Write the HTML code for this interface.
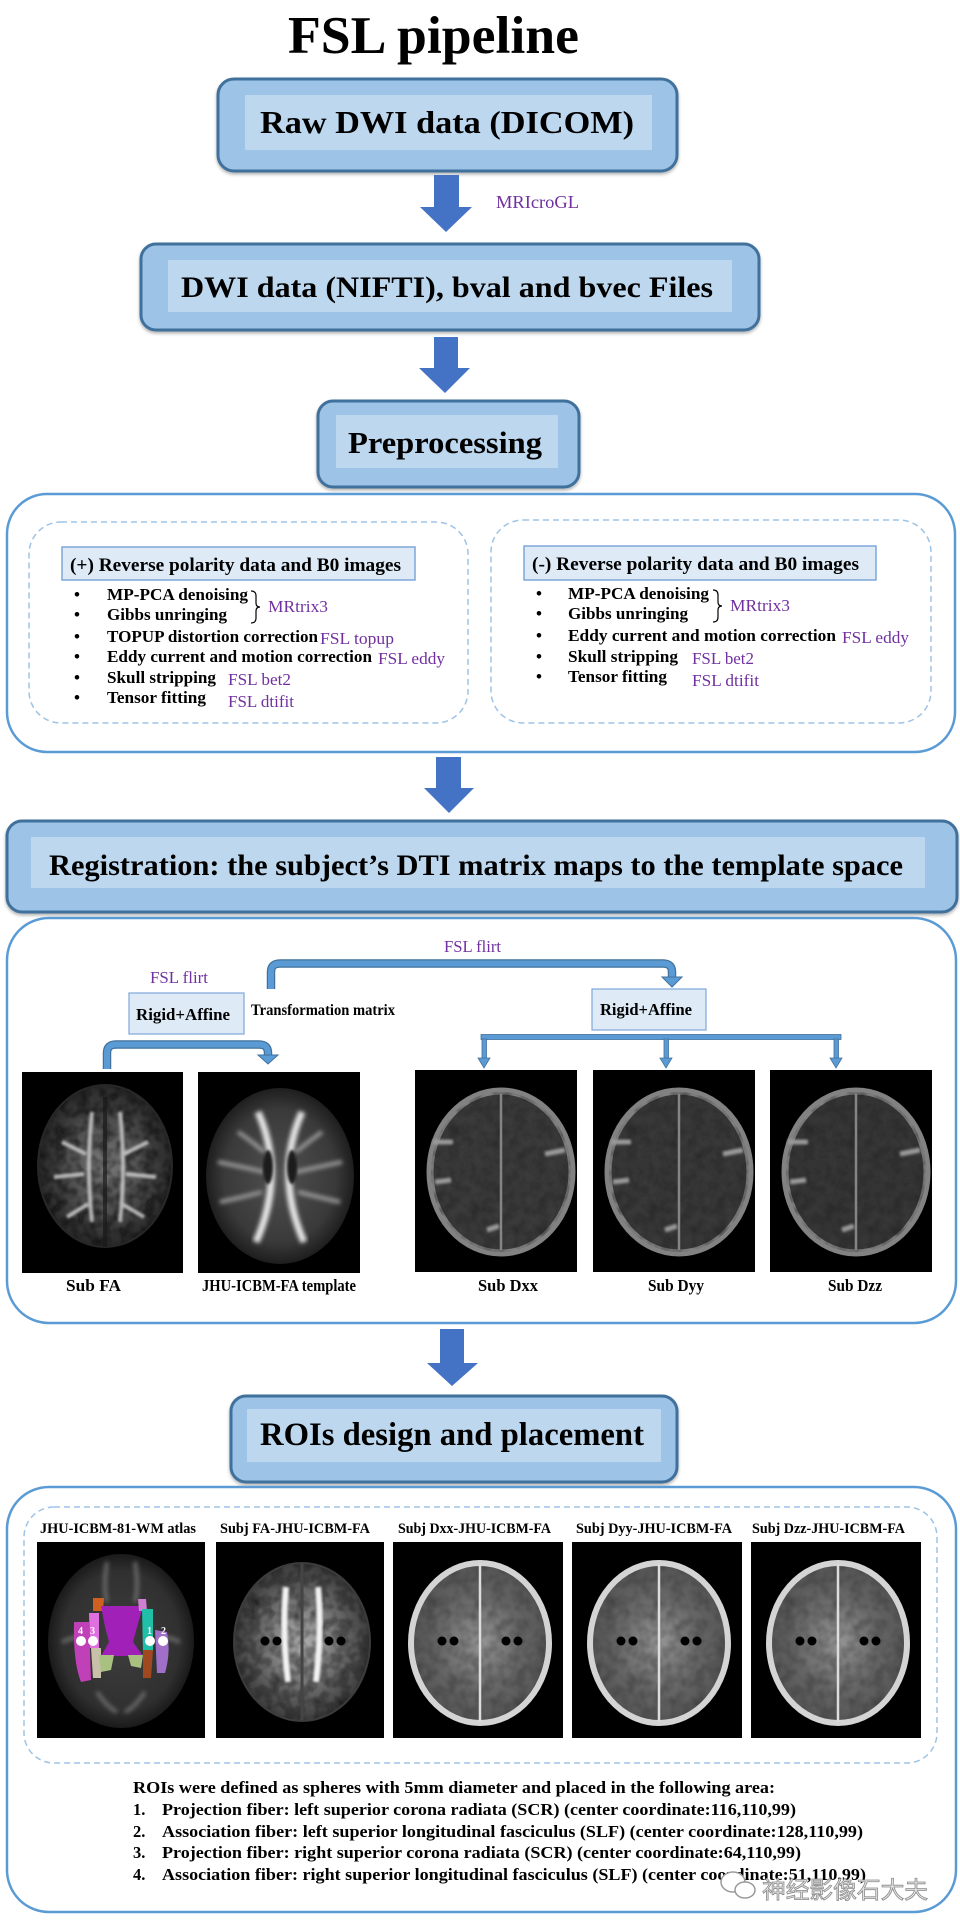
<!DOCTYPE html>
<html><head><meta charset="utf-8"><style>
html,body{margin:0;padding:0;background:#fff}
svg{display:block}
text{font-family:"Liberation Serif","Noto Serif CJK SC",serif}
.b{font-weight:bold;fill:#000}
.p{fill:#7030a0}
</style></head><body>
<svg width="960" height="1929" viewBox="0 0 960 1929" xmlns="http://www.w3.org/2000/svg">
<defs>
<filter id="sh" x="-5%" y="-5%" width="110%" height="120%"><feDropShadow dx="0" dy="2" stdDeviation="1.5" flood-color="#000" flood-opacity="0.3"/></filter>
<filter id="bl1"><feGaussianBlur stdDeviation="1.2"/></filter>
<filter id="bl2"><feGaussianBlur stdDeviation="2.2"/></filter>
<filter id="tex" x="0" y="0" width="100%" height="100%">
<feTurbulence type="fractalNoise" baseFrequency="0.09" numOctaves="2" seed="3" result="n"/>
<feColorMatrix in="n" type="matrix" values="0 0 0 0 0  0 0 0 0 0  0 0 0 0 0  0 0 0 -1.6 1.05" result="a"/>
<feComposite in="SourceGraphic" in2="a" operator="in"/>
</filter>
<radialGradient id="gFA" cx="50%" cy="50%" r="50%"><stop offset="0" stop-color="#7a7a7a"/><stop offset="0.6" stop-color="#4a4a4a"/><stop offset="1" stop-color="#262626"/></radialGradient>
<radialGradient id="gTpl" cx="50%" cy="50%" r="50%"><stop offset="0" stop-color="#505050"/><stop offset="0.75" stop-color="#3a3a3a"/><stop offset="1" stop-color="#1e1e1e"/></radialGradient>
<radialGradient id="gAt" cx="50%" cy="50%" r="50%"><stop offset="0" stop-color="#3e3e3e"/><stop offset="0.8" stop-color="#303030"/><stop offset="1" stop-color="#1a1a1a"/></radialGradient>
<radialGradient id="gRFA" cx="50%" cy="50%" r="50%"><stop offset="0" stop-color="#b0b0b0"/><stop offset="0.55" stop-color="#707070"/><stop offset="1" stop-color="#3a3a3a"/></radialGradient>
<radialGradient id="gRD" cx="50%" cy="50%" r="50%"><stop offset="0" stop-color="#959595"/><stop offset="0.6" stop-color="#666"/><stop offset="1" stop-color="#555"/></radialGradient>
</defs>

<!-- Title -->
<text class="b" x="288" y="53" font-size="53" textLength="291" lengthAdjust="spacingAndGlyphs">FSL pipeline</text>

<!-- Box 1 -->
<g filter="url(#sh)"><rect x="218" y="79" width="459" height="92" rx="16" fill="#9dc3e6" stroke="#41719c" stroke-width="3"/></g>
<rect x="245" y="95" width="407" height="55" fill="#bdd7ee"/>
<text class="b" x="260" y="133" font-size="32" textLength="374" lengthAdjust="spacingAndGlyphs">Raw DWI data (DICOM)</text>

<!-- Arrow 1 -->
<polygon points="434,175 459,175 459,207 472,207 446,232 420,207 434,207" fill="#4472c4"/>
<text class="p" x="496" y="208" font-size="18" textLength="83" lengthAdjust="spacingAndGlyphs">MRIcroGL</text>

<!-- Box 2 -->
<g filter="url(#sh)"><rect x="141" y="244" width="618" height="86" rx="15" fill="#9dc3e6" stroke="#41719c" stroke-width="3"/></g>
<rect x="168" y="260" width="564" height="52" fill="#bdd7ee"/>
<text class="b" x="181" y="297" font-size="30" textLength="532" lengthAdjust="spacingAndGlyphs">DWI data (NIFTI), bval and bvec Files</text>

<!-- Arrow 2 -->
<polygon points="434,337 458,337 458,368 470,368 445,393 419,368 434,368" fill="#4472c4"/>

<!-- Box 3 -->
<g filter="url(#sh)"><rect x="318" y="401" width="261" height="86" rx="15" fill="#9dc3e6" stroke="#41719c" stroke-width="3"/></g>
<rect x="336" y="415" width="222" height="53" fill="#bdd7ee"/>
<text class="b" x="348" y="453" font-size="31" textLength="194" lengthAdjust="spacingAndGlyphs">Preprocessing</text>

<!-- Container 1 -->
<rect x="7" y="494" width="948" height="258" rx="40" fill="none" stroke="#5b9bd5" stroke-width="2.5"/>
<rect x="29" y="522" width="439" height="201" rx="32" fill="none" stroke="#9dc3e6" stroke-width="1.5" stroke-dasharray="6,4"/>
<rect x="491" y="520" width="440" height="203" rx="32" fill="none" stroke="#9dc3e6" stroke-width="1.5" stroke-dasharray="6,4"/>
<rect x="62" y="547" width="353" height="33" fill="#deebf7" stroke="#7fa7d9" stroke-width="1.5"/>
<text class="b" x="70" y="571" font-size="19" textLength="331" lengthAdjust="spacingAndGlyphs">(+) Reverse polarity data and B0 images</text>
<rect x="524" y="546" width="352" height="34" fill="#deebf7" stroke="#7fa7d9" stroke-width="1.5"/>
<text class="b" x="532" y="570" font-size="19" textLength="327" lengthAdjust="spacingAndGlyphs">(-) Reverse polarity data and B0 images</text>

<g font-size="17">
<text class="b" x="74" y="600">•</text><text class="b" x="107" y="600" textLength="141" lengthAdjust="spacingAndGlyphs">MP-PCA denoising</text>
<text class="b" x="74" y="620">•</text><text class="b" x="107" y="620" textLength="120" lengthAdjust="spacingAndGlyphs">Gibbs unringing</text>
<text class="b" x="74" y="642">•</text><text class="b" x="107" y="642" textLength="211" lengthAdjust="spacingAndGlyphs">TOPUP distortion correction</text>
<text class="b" x="74" y="662">•</text><text class="b" x="107" y="662" textLength="265" lengthAdjust="spacingAndGlyphs">Eddy current and motion correction</text>
<text class="b" x="74" y="683">•</text><text class="b" x="107" y="683" textLength="109" lengthAdjust="spacingAndGlyphs">Skull stripping</text>
<text class="b" x="74" y="703">•</text><text class="b" x="107" y="703" textLength="99" lengthAdjust="spacingAndGlyphs">Tensor fitting</text>
<text class="p" x="268" y="612" textLength="60" lengthAdjust="spacingAndGlyphs">MRtrix3</text>
<text class="p" x="320" y="644" textLength="74" lengthAdjust="spacingAndGlyphs">FSL topup</text>
<text class="p" x="378" y="664" textLength="67" lengthAdjust="spacingAndGlyphs">FSL eddy</text>
<text class="p" x="228" y="685" textLength="63" lengthAdjust="spacingAndGlyphs">FSL bet2</text>
<text class="p" x="228" y="707" textLength="66" lengthAdjust="spacingAndGlyphs">FSL dtifit</text>

<text class="b" x="536" y="599">•</text><text class="b" x="568" y="599" textLength="141" lengthAdjust="spacingAndGlyphs">MP-PCA denoising</text>
<text class="b" x="536" y="619">•</text><text class="b" x="568" y="619" textLength="120" lengthAdjust="spacingAndGlyphs">Gibbs unringing</text>
<text class="b" x="536" y="641">•</text><text class="b" x="568" y="641" textLength="268" lengthAdjust="spacingAndGlyphs">Eddy current and motion correction</text>
<text class="b" x="536" y="662">•</text><text class="b" x="568" y="662" textLength="110" lengthAdjust="spacingAndGlyphs">Skull stripping</text>
<text class="b" x="536" y="682">•</text><text class="b" x="568" y="682" textLength="99" lengthAdjust="spacingAndGlyphs">Tensor fitting</text>
<text class="p" x="730" y="611" textLength="60" lengthAdjust="spacingAndGlyphs">MRtrix3</text>
<text class="p" x="842" y="643" textLength="67" lengthAdjust="spacingAndGlyphs">FSL eddy</text>
<text class="p" x="692" y="664" textLength="62" lengthAdjust="spacingAndGlyphs">FSL bet2</text>
<text class="p" x="692" y="686" textLength="67" lengthAdjust="spacingAndGlyphs">FSL dtifit</text>
</g>
<path d="M251 591 Q256 591 256 596 L256 603 Q256 607 260 607 Q256 607 256 611 L256 618 Q256 623 251 623" fill="none" stroke="#000" stroke-width="1.2"/>
<path d="M713 590 Q718 590 718 595 L718 602 Q718 606 722 606 Q718 606 718 610 L718 617 Q718 622 713 622" fill="none" stroke="#000" stroke-width="1.2"/>

<!-- Arrow 3 -->
<polygon points="436,757 461,757 461,788 474,788 449,813 424,788 436,788" fill="#4472c4"/>

<!-- Registration box -->
<g filter="url(#sh)"><rect x="7" y="821" width="950" height="91" rx="15" fill="#9dc3e6" stroke="#41719c" stroke-width="3"/></g>
<rect x="31" y="837" width="894" height="51" fill="#bdd7ee"/>
<text class="b" x="49" y="875" font-size="30" textLength="854" lengthAdjust="spacingAndGlyphs">Registration: the subject’s DTI matrix maps to the template space</text>

<!-- Container 2 -->
<rect x="7" y="918" width="949" height="405" rx="42" fill="none" stroke="#5b9bd5" stroke-width="2.5"/>
<text class="p" x="444" y="952" font-size="17" textLength="57" lengthAdjust="spacingAndGlyphs">FSL flirt</text>
<text class="p" x="150" y="983" font-size="17" textLength="58" lengthAdjust="spacingAndGlyphs">FSL flirt</text>
<path d="M271 989 L271 972 Q271 963.5 280 963.5 L663 963.5 Q672 963.5 672 972 L672 977" fill="none" stroke="#41719c" stroke-width="8.5"/>
<path d="M271 989 L271 972 Q271 963.5 280 963.5 L663 963.5 Q672 963.5 672 972 L672 978" fill="none" stroke="#5b9bd5" stroke-width="6"/>
<polygon points="662,977 682,977 672,987" fill="#5b9bd5" stroke="#41719c" stroke-width="1"/>
<rect x="129" y="993" width="115" height="41" fill="#deebf7" stroke="#7fa7d9" stroke-width="1.2"/>
<text class="b" x="136" y="1020" font-size="17" textLength="94" lengthAdjust="spacingAndGlyphs">Rigid+Affine</text>
<text class="b" x="251" y="1015" font-size="15.5" textLength="144" lengthAdjust="spacingAndGlyphs">Transformation matrix</text>
<rect x="592" y="989" width="114" height="41" fill="#deebf7" stroke="#7fa7d9" stroke-width="1.2"/>
<text class="b" x="600" y="1015" font-size="17" textLength="92" lengthAdjust="spacingAndGlyphs">Rigid+Affine</text>
<path d="M107 1069 L107 1053 Q107 1044.5 116 1044.5 L259 1044.5 Q268 1044.5 268 1053 L268 1056" fill="none" stroke="#41719c" stroke-width="8.5"/>
<path d="M107 1069 L107 1053 Q107 1044.5 116 1044.5 L259 1044.5 Q268 1044.5 268 1053 L268 1057" fill="none" stroke="#5b9bd5" stroke-width="6"/>
<polygon points="258,1055 278,1055 268,1064" fill="#5b9bd5" stroke="#41719c" stroke-width="1"/>
<rect x="481" y="1034.5" width="360" height="5" fill="#5b9bd5" stroke="#41719c" stroke-width="0.8"/>
<g fill="#5b9bd5" stroke="#41719c" stroke-width="0.8">
<rect x="482" y="1039" width="4.5" height="20"/><polygon points="478,1058 490,1058 484,1068"/>
<rect x="664" y="1039" width="4.5" height="20"/><polygon points="660,1058 672,1058 666,1068"/>
<rect x="834" y="1039" width="4.5" height="20"/><polygon points="830,1058 842,1058 836,1068"/>
</g>

<!-- Sub FA -->
<g transform="translate(22,1072)">
<rect width="161" height="201" fill="#000"/>
<ellipse cx="83" cy="94" rx="68" ry="82" fill="url(#gFA)"/>
<ellipse cx="83" cy="94" rx="66" ry="80" fill="#0a0a0a" filter="url(#tex)" opacity="0.75"/>
<g fill="none" stroke="#cfcfcf" stroke-width="4" filter="url(#bl1)" opacity="0.85">
<path d="M70 40 Q64 95 70 150"/><path d="M98 40 Q104 95 98 150"/>
<path d="M40 70 L64 82"/><path d="M126 70 L102 82"/><path d="M32 105 L62 102"/><path d="M134 105 L104 102"/>
<path d="M45 145 L66 132"/><path d="M122 145 L100 132"/>
</g>
<rect x="81" y="25" width="4" height="150" fill="#1a1a1a" opacity="0.7"/>
</g>

<!-- JHU template -->
<g transform="translate(198,1072)">
<rect width="162" height="201" fill="#000"/>
<ellipse cx="82" cy="104" rx="74" ry="88" fill="url(#gTpl)"/>
<g fill="none" stroke="#e6e6e6" stroke-width="7" filter="url(#bl2)">
<path d="M60 40 C 78 80, 78 125, 58 170"/><path d="M104 40 C 86 80, 86 125, 106 170"/>
</g>
<g fill="none" stroke="#9a9a9a" stroke-width="4" filter="url(#bl2)">
<path d="M20 90 Q45 95 66 100"/><path d="M144 90 Q120 95 98 100"/>
<path d="M22 130 Q45 125 64 120"/><path d="M142 130 Q120 125 100 120"/>
<path d="M40 60 Q55 70 66 80"/><path d="M124 60 Q110 70 98 80"/>
</g>
<ellipse cx="70" cy="95" rx="5" ry="17" fill="#1a1a1a" filter="url(#bl1)"/>
<ellipse cx="94" cy="95" rx="5" ry="17" fill="#1a1a1a" filter="url(#bl1)"/>
</g>

<!-- Dxx Dyy Dzz -->
<g transform="translate(415,1070)">
<rect width="162" height="202" fill="#000"/>
<ellipse cx="86" cy="102" rx="71" ry="81" fill="#3a3a3a" stroke="#828282" stroke-width="7"/>
<ellipse cx="86" cy="102" rx="70" ry="80" fill="#1e1e1e" filter="url(#tex)" opacity="0.6"/>
<line x1="86" y1="24" x2="86" y2="180" stroke="#858585" stroke-width="2.5"/>
<g stroke="#9a9a9a" stroke-width="5" filter="url(#bl1)">
<line x1="18" y1="72" x2="38" y2="72"/><line x1="150" y1="80" x2="130" y2="84"/><line x1="20" y1="112" x2="36" y2="110"/><line x1="72" y1="160" x2="84" y2="156"/>
</g>
</g>
<g transform="translate(593,1070)">
<rect width="162" height="202" fill="#000"/>
<ellipse cx="86" cy="102" rx="71" ry="81" fill="#383838" stroke="#828282" stroke-width="7"/>
<ellipse cx="86" cy="102" rx="70" ry="80" fill="#1e1e1e" filter="url(#tex)" opacity="0.6"/>
<line x1="86" y1="24" x2="86" y2="180" stroke="#858585" stroke-width="2.5"/>
<g stroke="#9a9a9a" stroke-width="5" filter="url(#bl1)">
<line x1="18" y1="72" x2="38" y2="72"/><line x1="150" y1="80" x2="130" y2="84"/><line x1="20" y1="112" x2="36" y2="110"/><line x1="72" y1="160" x2="84" y2="156"/>
</g>
</g>
<g transform="translate(770,1070)">
<rect width="162" height="202" fill="#000"/>
<ellipse cx="86" cy="102" rx="71" ry="81" fill="#363636" stroke="#828282" stroke-width="7"/>
<ellipse cx="86" cy="102" rx="70" ry="80" fill="#1e1e1e" filter="url(#tex)" opacity="0.6"/>
<line x1="86" y1="24" x2="86" y2="180" stroke="#858585" stroke-width="2.5"/>
<g stroke="#9a9a9a" stroke-width="5" filter="url(#bl1)">
<line x1="18" y1="72" x2="38" y2="72"/><line x1="150" y1="80" x2="130" y2="84"/><line x1="20" y1="112" x2="36" y2="110"/><line x1="72" y1="160" x2="84" y2="156"/>
</g>
</g>

<g font-size="17">
<text class="b" x="66" y="1291" textLength="55" lengthAdjust="spacingAndGlyphs">Sub FA</text>
<text class="b" x="202" y="1291" textLength="154" lengthAdjust="spacingAndGlyphs">JHU-ICBM-FA template</text>
<text class="b" x="478" y="1291" textLength="60" lengthAdjust="spacingAndGlyphs">Sub Dxx</text>
<text class="b" x="648" y="1291" textLength="56" lengthAdjust="spacingAndGlyphs">Sub Dyy</text>
<text class="b" x="828" y="1291" textLength="54" lengthAdjust="spacingAndGlyphs">Sub Dzz</text>
</g>

<!-- Arrow 4 -->
<polygon points="440,1329 464,1329 464,1363 478,1363 452,1386 427,1363 440,1363" fill="#4472c4"/>

<!-- ROI box -->
<g filter="url(#sh)"><rect x="231" y="1396" width="446" height="86" rx="15" fill="#9dc3e6" stroke="#41719c" stroke-width="3"/></g>
<rect x="247" y="1409" width="414" height="53" fill="#bdd7ee"/>
<text class="b" x="260" y="1445" font-size="33" textLength="384" lengthAdjust="spacingAndGlyphs">ROIs design and placement</text>

<!-- Container 3 -->
<rect x="7" y="1487" width="949" height="425" rx="42" fill="none" stroke="#5b9bd5" stroke-width="2.5"/>
<rect x="24" y="1507" width="913" height="256" rx="30" fill="none" stroke="#9dc3e6" stroke-width="1.5" stroke-dasharray="6,4"/>

<g font-size="14.5">
<text class="b" x="40" y="1533" textLength="156" lengthAdjust="spacingAndGlyphs">JHU-ICBM-81-WM atlas</text>
<text class="b" x="220" y="1533" textLength="150" lengthAdjust="spacingAndGlyphs">Subj FA-JHU-ICBM-FA</text>
<text class="b" x="398" y="1533" textLength="153" lengthAdjust="spacingAndGlyphs">Subj Dxx-JHU-ICBM-FA</text>
<text class="b" x="576" y="1533" textLength="156" lengthAdjust="spacingAndGlyphs">Subj Dyy-JHU-ICBM-FA</text>
<text class="b" x="752" y="1533" textLength="153" lengthAdjust="spacingAndGlyphs">Subj Dzz-JHU-ICBM-FA</text>
</g>

<!-- Atlas -->
<g transform="translate(37,1542)">
<rect width="168" height="196" fill="#000"/>
<ellipse cx="84" cy="99" rx="73" ry="87" fill="url(#gAt)"/>
<g fill="none" stroke="#777" stroke-width="4" filter="url(#bl2)" opacity="0.8">
<path d="M70 20 Q66 45 70 60"/><path d="M98 20 Q102 45 98 60"/>
<path d="M25 100 Q35 95 45 95"/><path d="M143 100 Q133 95 123 95"/>
<path d="M60 150 Q70 165 80 170"/><path d="M108 150 Q98 165 88 170"/>
</g>
<path d="M37 80 L52 80 L54 138 L44 140 Q36 120 37 80Z" fill="#c040b8"/>
<path d="M52 71 L62 71 L62 106 L53 106Z" fill="#e070e0"/>
<path d="M54 106 L64 106 L64 136 L56 136Z" fill="#c8c0a8"/>
<path d="M56 56 L67 56 L66 69 L56 69Z" fill="#d06020"/>
<path d="M64 64 L106 64 L100 85 L96 100 L106 114 L64 114 L72 100 L68 85Z" fill="#a020b8"/>
<path d="M101 57 L109 57 L110 69 L102 69Z" fill="#d080d0"/>
<path d="M105 67 L116 67 L116 110 L106 110Z" fill="#20c0a8"/>
<path d="M106 108 L116 108 L114 136 L106 136Z" fill="#a04820"/>
<path d="M118 88 L130 90 Q134 110 128 131 L120 131Z" fill="#a070c8"/>
<path d="M62 113 L77 113 L74 128 L64 130Z" fill="#a8c080"/>
<path d="M91 113 L106 113 L104 126 L94 124Z" fill="#a8c080"/>
<g fill="#fff"><circle cx="44" cy="99" r="5"/><circle cx="56" cy="99" r="5"/><circle cx="113" cy="99" r="5"/><circle cx="126" cy="99" r="5"/></g>
<g font-size="10" font-weight="bold"><text x="41" y="92" fill="#fff">4</text><text x="53" y="92" fill="#fff">3</text><text x="110" y="92" fill="#fff">1</text><text x="124" y="92" fill="#fff">2</text></g>
</g>

<!-- Subj FA ROI -->
<g transform="translate(216,1542)">
<rect width="168" height="196" fill="#000"/>
<ellipse cx="86" cy="100" rx="69" ry="80" fill="url(#gRFA)"/>
<ellipse cx="86" cy="100" rx="67" ry="78" fill="#0e0e0e" filter="url(#tex)" opacity="0.7"/>
<g fill="none" stroke="#f4f4f4" stroke-width="6" filter="url(#bl1)">
<path d="M70 45 Q66 90 72 140"/><path d="M102 45 Q106 90 100 140"/>
</g>
<line x1="86" y1="22" x2="86" y2="178" stroke="#444" stroke-width="3"/>
<g fill="#000"><circle cx="49" cy="99" r="4.5"/><circle cx="61" cy="99" r="4.5"/><circle cx="113" cy="99" r="4.5"/><circle cx="125" cy="99" r="4.5"/></g>
</g>

<!-- Dxx/Dyy/Dzz ROI -->
<g transform="translate(393,1542)">
<rect width="170" height="196" fill="#000"/>
<ellipse cx="87" cy="101" rx="69" ry="80" fill="url(#gRD)" stroke="#d4d4d4" stroke-width="6"/>
<ellipse cx="87" cy="101" rx="66" ry="77" fill="#303030" filter="url(#tex)" opacity="0.55"/>
<line x1="87" y1="22" x2="87" y2="180" stroke="#ddd" stroke-width="2.5"/>
<g fill="#000"><circle cx="49" cy="99" r="4.5"/><circle cx="61" cy="99" r="4.5"/><circle cx="113" cy="99" r="4.5"/><circle cx="125" cy="99" r="4.5"/></g>
</g>
<g transform="translate(572,1542)">
<rect width="170" height="196" fill="#000"/>
<ellipse cx="87" cy="101" rx="69" ry="80" fill="url(#gRD)" stroke="#d4d4d4" stroke-width="6"/>
<ellipse cx="87" cy="101" rx="66" ry="77" fill="#303030" filter="url(#tex)" opacity="0.55"/>
<line x1="87" y1="22" x2="87" y2="180" stroke="#ddd" stroke-width="2.5"/>
<g fill="#000"><circle cx="49" cy="99" r="4.5"/><circle cx="61" cy="99" r="4.5"/><circle cx="113" cy="99" r="4.5"/><circle cx="125" cy="99" r="4.5"/></g>
</g>
<g transform="translate(751,1542)">
<rect width="170" height="196" fill="#000"/>
<ellipse cx="87" cy="101" rx="69" ry="80" fill="url(#gRD)" stroke="#d4d4d4" stroke-width="6"/>
<ellipse cx="87" cy="101" rx="66" ry="77" fill="#303030" filter="url(#tex)" opacity="0.55"/>
<line x1="87" y1="22" x2="87" y2="180" stroke="#ddd" stroke-width="2.5"/>
<g fill="#000"><circle cx="49" cy="99" r="4.5"/><circle cx="61" cy="99" r="4.5"/><circle cx="113" cy="99" r="4.5"/><circle cx="125" cy="99" r="4.5"/></g>
</g>

<!-- Bottom text -->
<g font-size="16.5">
<text class="b" x="133" y="1793" textLength="642" lengthAdjust="spacingAndGlyphs">ROIs were defined as spheres with 5mm diameter and placed in the following area:</text>
<text class="b" x="133" y="1815">1.</text><text class="b" x="162" y="1815" textLength="634" lengthAdjust="spacingAndGlyphs">Projection fiber: left superior corona radiata (SCR) (center coordinate:116,110,99)</text>
<text class="b" x="133" y="1837">2.</text><text class="b" x="162" y="1837" textLength="701" lengthAdjust="spacingAndGlyphs">Association fiber: left superior longitudinal fasciculus (SLF) (center coordinate:128,110,99)</text>
<text class="b" x="133" y="1858">3.</text><text class="b" x="162" y="1858" textLength="639" lengthAdjust="spacingAndGlyphs">Projection fiber: right superior corona radiata (SCR) (center coordinate:64,110,99)</text>
<text class="b" x="133" y="1880">4.</text><text class="b" x="162" y="1880" textLength="704" lengthAdjust="spacingAndGlyphs">Association fiber: right superior longitudinal fasciculus (SLF) (center coordinate:51,110,99)</text>
</g>

<!-- Watermark -->
<g>
<ellipse cx="733" cy="1882" rx="12" ry="10" fill="#fff" stroke="#999" stroke-width="1.5"/>
<ellipse cx="745" cy="1890" rx="10" ry="8" fill="#fff" stroke="#999" stroke-width="1.5"/>
<text x="762" y="1898" font-size="23.5" textLength="166" lengthAdjust="spacingAndGlyphs" fill="#e8e8e8" stroke="#8a8a8a" stroke-width="0.8" style="font-family:'Noto Sans CJK SC','WenQuanYi Zen Hei',sans-serif">神经影像石大夫</text>
</g>
</svg>
</body></html>
